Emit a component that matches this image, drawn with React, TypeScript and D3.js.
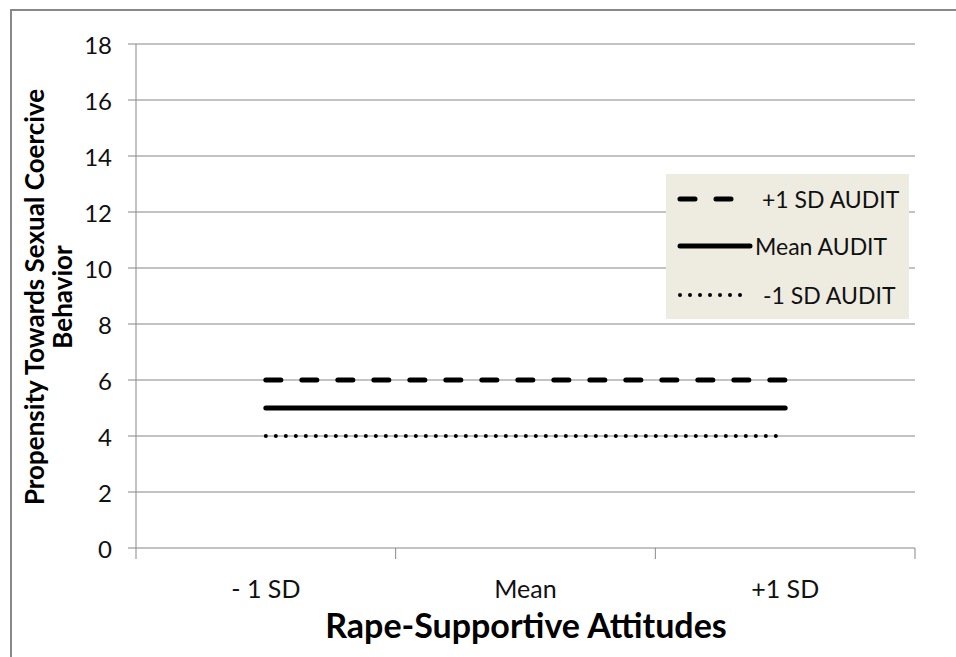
import React from "react";
import * as d3 from "d3";

const categories = ["- 1 SD", "Mean", "+1 SD"];
const yTicks = [0, 2, 4, 6, 8, 10, 12, 14, 16, 18];
const seriesNames = ["+1 SD AUDIT", "Mean AUDIT", "-1 SD AUDIT"];
const plusSD = [6, 6, 6];
const meanA = [5, 5, 5];
const minusSD = [4, 4, 4];

const FONT = "Lato, 'Open Sans', sans-serif";
const GRID = "#878787";

export default function App() {
  const W = 956, H = 657;
  const left = 136, right = 915, top = 44, bottom = 548;
  const x = d3.scaleBand<string>().domain(categories).range([left, right]);
  const y = d3.scaleLinear().domain([0, 18]).range([bottom, top]);
  const cx = (c: string) => (x(c) as number) + x.bandwidth() / 2;
  const line = d3
    .line<number>()
    .x((_, i) => cx(categories[i]))
    .y((v) => y(v));

  const series = [
    { name: seriesNames[0], values: plusSD, dash: "15 21", width: 5 },
    { name: seriesNames[1], values: meanA, dash: null, width: 5 },
    { name: seriesNames[2], values: minusSD, dash: "0 10", width: 4 },
  ];

  const boundaries = [0, 1, 2, 3].map((i) => left + i * x.bandwidth());

  const legX = 666, legY = 174, legW = 243, legH = 145;
  const legRows = [199, 246, 295];
  const legLineEnd = [733, 750, 745];
  const legTextX = [762, 755, 763];

  return (
    <svg
      width={W}
      height={H}
      style={{ position: "absolute", left: 0, top: 0, background: "#fff" }}
    >
      <rect x={0} y={0} width={W} height={H} fill="#fff" />
      <rect x={11} y={10} width={W + 20} height={H + 20} fill="none" stroke="#888" strokeWidth={2} />

      {yTicks.map((t) => (
        <line key={t} x1={left - 8} x2={right} y1={y(t)} y2={y(t)} stroke={GRID} strokeWidth={1} />
      ))}
      <line x1={left} x2={left} y1={top} y2={bottom} stroke={GRID} strokeWidth={1} />
      {boundaries.map((b, i) => (
        <line key={i} x1={b} x2={b} y1={bottom} y2={bottom + 11} stroke={GRID} strokeWidth={1} />
      ))}

      {yTicks.map((t) => (
        <text key={t} x={112} y={y(t)} textAnchor="end" dominantBaseline="central" fontFamily={FONT} fontSize={24} fill="#111">
          {t}
        </text>
      ))}
      {categories.map((c) => (
        <text key={c} x={cx(c)} y={588} textAnchor="middle" dominantBaseline="central" fontFamily={FONT} fontSize={25} fill="#111">
          {c}
        </text>
      ))}

      {series.map((s) => (
        <path
          key={s.name}
          d={line(s.values) as string}
          fill="none"
          stroke="#000"
          strokeWidth={s.width}
          strokeLinecap="round"
          strokeDasharray={s.dash ?? undefined}
        />
      ))}

      <text x={526} y={638} textAnchor="middle" fontFamily={FONT} fontWeight="bold" fontSize={34} fill="#000">
        Rape-Supportive Attitudes
      </text>
      <g transform="translate(0,297) rotate(-90)">
        <text x={0} y={44} textAnchor="middle" fontFamily={FONT} fontWeight="bold" fontSize={26} fill="#000">
          Propensity Towards Sexual Coercive
        </text>
        <text x={0} y={72} textAnchor="middle" fontFamily={FONT} fontWeight="bold" fontSize={26} fill="#000">
          Behavior
        </text>
      </g>

      <rect x={legX} y={legY} width={legW} height={legH} fill="#EEECE1" />
      {series.map((s, i) => (
        <g key={s.name}>
          <line
            x1={680}
            x2={legLineEnd[i]}
            y1={legRows[i]}
            y2={legRows[i]}
            stroke="#000"
            strokeWidth={s.width}
            strokeLinecap="round"
            strokeDasharray={s.dash ?? undefined}
          />
          <text x={legTextX[i]} y={legRows[i]} dominantBaseline="central" fontFamily={FONT} fontSize={23} fill="#111">
            {s.name}
          </text>
        </g>
      ))}
    </svg>
  );
}
